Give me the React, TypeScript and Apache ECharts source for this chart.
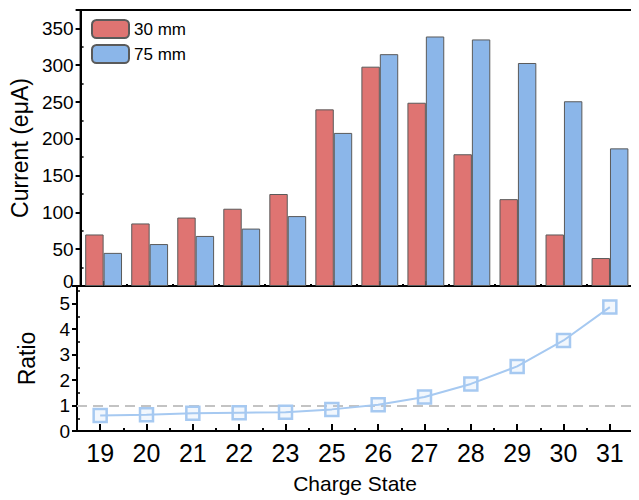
import React, { useEffect, useRef } from 'react';
import * as echarts from 'echarts';

const chargeStates = ['19', '20', '21', '22', '23', '25', '26', '27', '28', '29', '30', '31'];
const current30 = [70, 85, 93, 105, 125, 240, 298, 249, 179, 118, 70, 38];
const current75 = [45, 57, 68, 78, 95, 208, 315, 339, 335, 303, 251, 187];
const ratio = [0.61, 0.64, 0.7, 0.72, 0.74, 0.85, 1.03, 1.34, 1.85, 2.54, 3.56, 4.87];
const seriesNames = ['30 mm', '75 mm'];

const FONT = 'Liberation Sans, Arial, Helvetica, sans-serif';

export default function App() {
  const ref = useRef<HTMLDivElement>(null);
  useEffect(() => {
    if (!ref.current) return;
    const chart = echarts.init(ref.current, undefined, { renderer: 'svg' });
    const black = '#000';
    const mainTick = (len: number) => ({
      show: true,
      alignWithLabel: true,
      inside: true,
      length: len,
      lineStyle: { color: black, width: 2 },
    });
    const boundaryAxis = (gridIndex: number, len: number) => ({
      type: 'category',
      gridIndex,
      position: 'bottom',
      data: chargeStates,
      axisLine: { show: false },
      axisLabel: { show: false },
      axisTick: { show: true, inside: true, length: len, lineStyle: { color: black, width: 2 } },
      splitLine: { show: false },
    });
    chart.setOption({
      animation: false,
      textStyle: { fontFamily: FONT },
      grid: [
        { left: 77, right: 6, top: 10, height: 276, show: true, borderColor: black, borderWidth: 2, backgroundColor: 'transparent' },
        { left: 77, right: 6, top: 286, height: 145, show: true, borderColor: black, borderWidth: 2, backgroundColor: 'transparent' },
      ],
      legend: {
        orient: 'vertical',
        left: 91,
        top: 19,
        padding: 0,
        itemGap: 5,
        itemWidth: 37,
        itemHeight: 18,
        data: seriesNames,
        textStyle: { fontSize: 17, color: black, fontFamily: FONT },
      },
      xAxis: [
        {
          type: 'category',
          gridIndex: 0,
          position: 'bottom',
          data: chargeStates,
          axisLine: { show: true, lineStyle: { color: black, width: 2 } },
          axisLabel: { show: false },
          axisTick: mainTick(5),
          splitLine: { show: false },
        },
        {
          type: 'category',
          gridIndex: 1,
          position: 'bottom',
          data: chargeStates,
          axisLine: { show: true, lineStyle: { color: black, width: 2 } },
          axisLabel: { show: true, fontSize: 25, color: black, margin: 9, fontFamily: FONT },
          axisTick: mainTick(7),
          splitLine: { show: false },
          name: 'Charge State',
          nameLocation: 'middle',
          nameGap: 42,
          nameTextStyle: { fontSize: 21, color: black, fontFamily: FONT },
        },
        boundaryAxis(0, 2),
        boundaryAxis(1, 3),
      ],
      yAxis: [
        {
          type: 'value',
          gridIndex: 0,
          min: 0,
          max: 375,
          interval: 50,
          axisLine: { show: true, lineStyle: { color: black, width: 2 } },
          axisTick: { show: true, length: 5, lineStyle: { color: black, width: 2 } },
          minorTick: { show: true, splitNumber: 2, length: -3, lineStyle: { color: black, width: 1.5 } },
          axisLabel: {
            fontSize: 19,
            lineHeight: 16,
            color: black,
            margin: 7,
            showMaxLabel: false,
            fontFamily: FONT,
            formatter: (v: number) => (v === 0 ? '{z|0}' : String(v)),
            rich: { z: { fontSize: 19, lineHeight: 16, padding: [0, 0, 10, 0], color: black, fontFamily: FONT } },
          },
          splitLine: { show: false },
          name: 'Current (eμA)',
          nameLocation: 'middle',
          nameGap: 39,
          nameTextStyle: { fontSize: 23, color: black, fontFamily: FONT },
        },
        {
          type: 'value',
          gridIndex: 1,
          min: 0,
          max: 5.7,
          interval: 1,
          axisLine: { show: true, lineStyle: { color: black, width: 2 } },
          axisTick: { show: true, length: 5, lineStyle: { color: black, width: 2 } },
          minorTick: { show: true, splitNumber: 2, length: -3, lineStyle: { color: black, width: 1.5 } },
          axisLabel: { fontSize: 19, lineHeight: 16, color: black, margin: 7, showMaxLabel: false, fontFamily: FONT },
          splitLine: { show: false },
          name: 'Ratio',
          nameLocation: 'middle',
          nameGap: 39,
          nameTextStyle: { fontSize: 23, color: black, fontFamily: FONT },
        },
      ],
      series: [
        {
          name: seriesNames[0],
          type: 'bar',
          xAxisIndex: 0,
          yAxisIndex: 0,
          data: current30,
          barGap: '0%',
          barCategoryGap: '20%',
          itemStyle: { color: '#df7472', borderColor: '#5a5a5a', borderWidth: 1 },
        },
        {
          name: seriesNames[1],
          type: 'bar',
          xAxisIndex: 0,
          yAxisIndex: 0,
          data: current75,
          barGap: '0%',
          barCategoryGap: '20%',
          itemStyle: { color: '#8bb6e9', borderColor: '#5a5a5a', borderWidth: 1 },
        },
        {
          name: 'Ratio',
          type: 'line',
          xAxisIndex: 1,
          yAxisIndex: 1,
          data: ratio,
          symbol: 'rect',
          symbolSize: 13,
          lineStyle: { color: '#a6c9f1', width: 2 },
          itemStyle: { color: 'rgba(166,201,241,0.15)', borderColor: '#a6c9f1', borderWidth: 2.5 },
          z: 3,
          markLine: {
            silent: true,
            symbol: 'none',
            label: { show: false },
            lineStyle: { color: '#c3c3c3', type: [10, 6], width: 2 },
            data: [{ yAxis: 1 }],
            z: 1,
          },
        },
      ],
    });
    return () => chart.dispose();
  }, []);
  return <div ref={ref} style={{ width: 639, height: 500, marginLeft: -8, marginTop: -8 }} />;
}
